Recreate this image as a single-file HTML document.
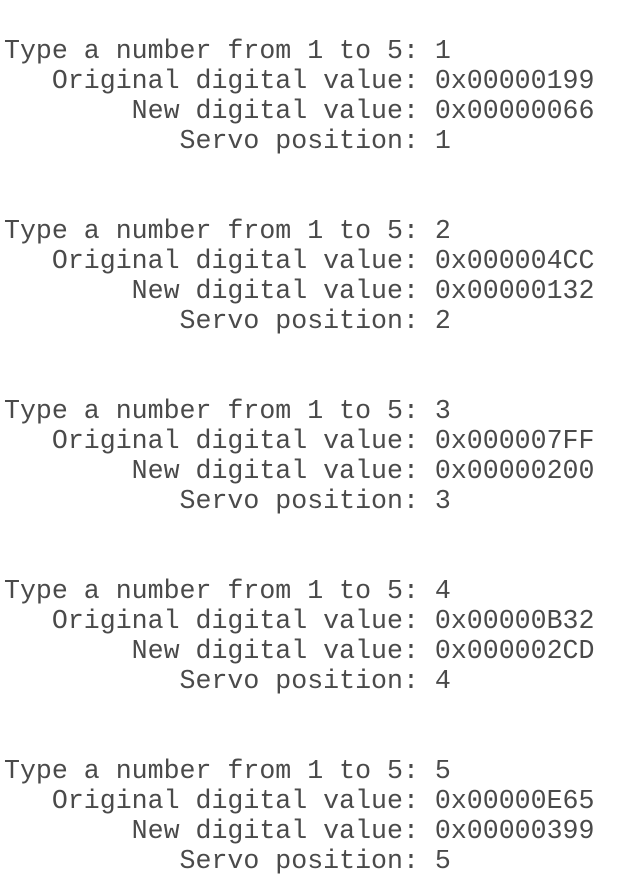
<!DOCTYPE html>
<html><head><meta charset="utf-8"><style>
html,body{margin:0;padding:0;background:#fff;width:621px;height:896px;overflow:hidden}
pre{margin:0;position:absolute;left:4px;top:36px;font-family:"Liberation Mono",monospace;font-size:26.6px;line-height:30px;color:#4a4a4a}
</style></head><body><pre>Type a number from 1 to 5: 1
   Original digital value: 0x00000199
        New digital value: 0x00000066
           Servo position: 1


Type a number from 1 to 5: 2
   Original digital value: 0x000004CC
        New digital value: 0x00000132
           Servo position: 2


Type a number from 1 to 5: 3
   Original digital value: 0x000007FF
        New digital value: 0x00000200
           Servo position: 3


Type a number from 1 to 5: 4
   Original digital value: 0x00000B32
        New digital value: 0x000002CD
           Servo position: 4


Type a number from 1 to 5: 5
   Original digital value: 0x00000E65
        New digital value: 0x00000399
           Servo position: 5</pre></body></html>
